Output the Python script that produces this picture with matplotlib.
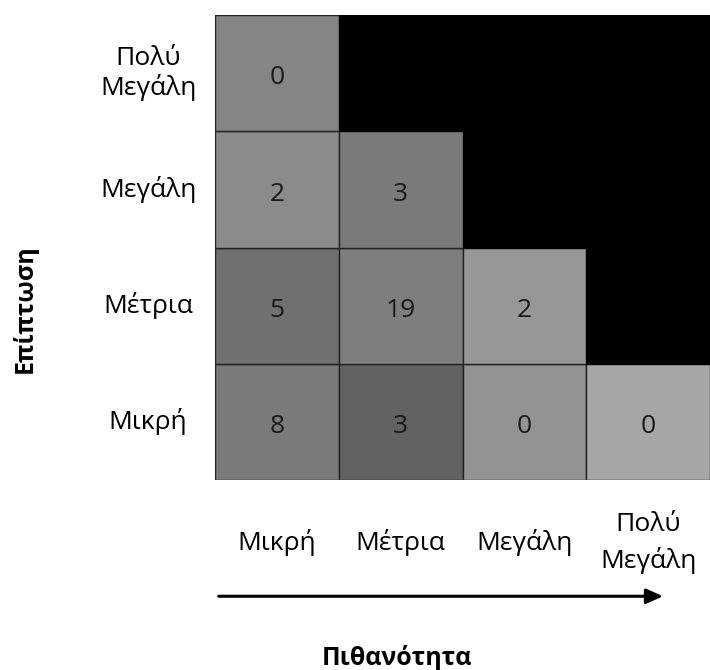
import matplotlib
matplotlib.use('Agg')
import matplotlib.pyplot as plt
from matplotlib.patches import Rectangle

plt.rcParams['font.family'] = ['Open Sans', 'DejaVu Sans']

# risk matrix: rows = impact (bottom to top), cols = probability
levels = ['Μικρή', 'Μέτρια', 'Μεγάλη', 'Πολύ\nΜεγάλη']
counts = [
    [8, 3, 0, 0],            # Μικρή
    [5, 19, 2, None],        # Μέτρια
    [2, 3, None, None],      # Μεγάλη
    [0, None, None, None],   # Πολύ Μεγάλη
]
# approximate grey of each scanned cell
shades = [
    ['#7a7a7a', '#626262', '#939393', '#a6a6a6'],
    ['#707070', '#7e7e7e', '#979797', None],
    ['#8b8b8b', '#7a7a7a', None, None],
    ['#858585', None, None, None],
]
xlabel = 'Πιθανότητα'
ylabel = 'Επίπτωση'

fig = plt.figure(figsize=(7.1, 6.7), dpi=100)
ax = fig.add_axes([215 / 710, 190 / 670, 495 / 710, 465 / 670])
ax.set_xlim(0, 4)
ax.set_ylim(0, 4)
ax.axis('off')

for r, row in enumerate(counts):
    for c, v in enumerate(row):
        if v is None:
            ax.add_patch(Rectangle((c, r), 1, 1, facecolor='black', edgecolor='black', lw=0.8))
        else:
            ax.add_patch(Rectangle((c, r), 1, 1, facecolor=shades[r][c], edgecolor='#222222', lw=1.0))
            ax.text(c + 0.5, r + 0.46, str(v), ha='center', va='center',
                    fontsize=19, color='#1a1a1a')

# row labels (impact) and column labels (probability)
for i, lab in enumerate(levels):
    ax.text(-0.54, i + 0.5, lab, ha='center', va='center', fontsize=19,
            linespacing=1.15, clip_on=False)
    ax.text(i + 0.5, -0.54, lab, ha='center', va='center', fontsize=19,
            linespacing=1.5, clip_on=False)

ax.annotate('', xy=(3.62, -1.0), xytext=(0.03, -1.0),
            arrowprops=dict(arrowstyle='-|>,head_length=1.0,head_width=0.45',
                            lw=2.2, color='black', shrinkA=0, shrinkB=0),
            annotation_clip=False)

ax.text(1.47, -1.595, xlabel, ha='center', va='baseline', fontsize=18,
        fontweight='bold', clip_on=False)
ax.text(-1.535, 1.47, ylabel, ha='center', va='center', fontsize=18,
        fontweight='bold', rotation=90, clip_on=False)

fig.savefig('out.png', dpi=100)
